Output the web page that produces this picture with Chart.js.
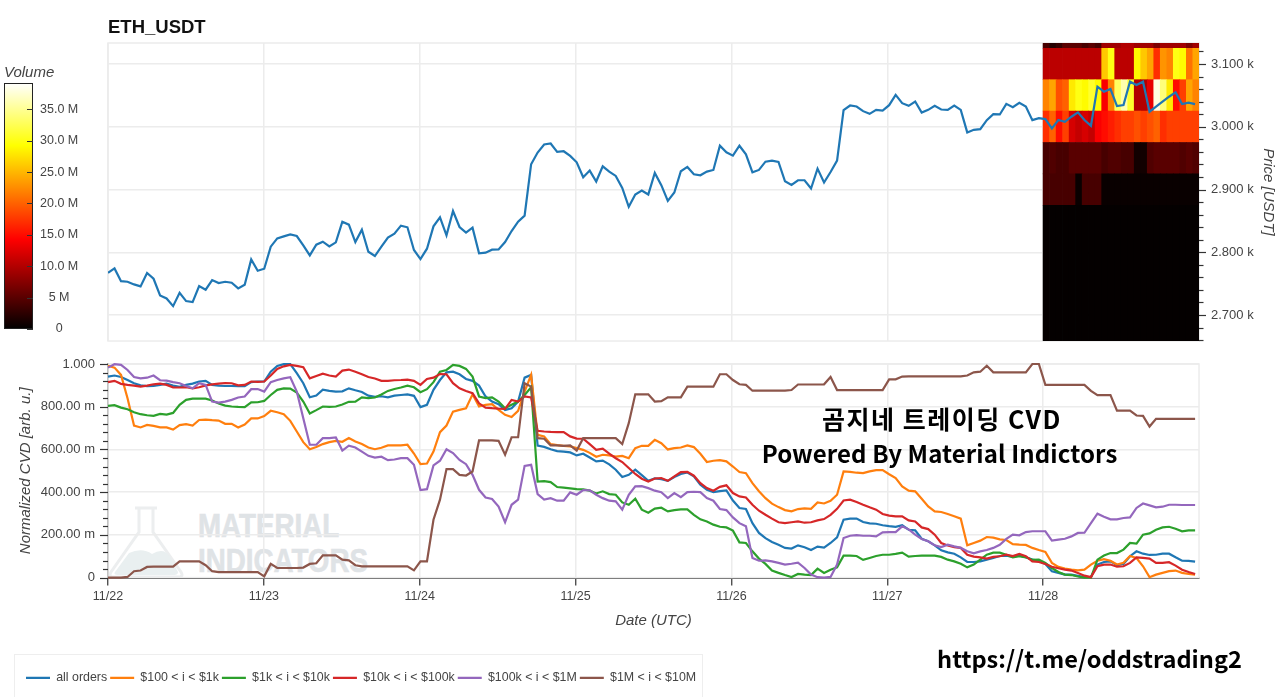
<!DOCTYPE html>
<html>
<head>
<meta charset="utf-8">
<script src="https://cdn.jsdelivr.net/npm/chart.js@4/dist/chart.umd.min.js"></script>
<style>
html,body{margin:0;padding:0;background:#fff;width:1280px;height:697px;overflow:hidden}
canvas{position:absolute;left:0;top:0}
.t{position:absolute;white-space:nowrap;color:#000}
#legendBox{position:absolute;left:14px;top:654px;width:689px;height:60px;border:1px solid #eee;box-sizing:border-box}
.wm{position:absolute;white-space:nowrap;left:198px;font:bold 33px "Liberation Sans",sans-serif;color:#dfe3e6;-webkit-text-stroke:.6px #dfe3e6;transform:scaleX(.84);transform-origin:left center;line-height:33px}
</style>
</head>
<body>
<div id="legendBox"></div>
<svg style="position:absolute;left:104px;top:504px" width="84" height="78" viewBox="0 0 84 78">
<path d="M31 4 H53 M35 4 V28 L7 68 Q4 73 10 73 H74 Q80 73 77 68 L49 28 V4" fill="none" stroke="#eceeef" stroke-width="3"/>
<path d="M11 68 L25 49 Q38 43 48 50 Q60 43 66 53 L74 68 Q74 71 70 71 H14 Q9 71 11 68Z" fill="#e9eff0"/>
</svg>
<div class="wm" style="top:509px">MATERIAL</div>
<div class="wm" style="top:544px">INDICATORS</div>
<canvas id="price" width="1280" height="697"></canvas>
<canvas id="cvd" width="1280" height="697"></canvas>
<canvas id="bar" width="1280" height="697"></canvas>
<div class="t" id="k1" style="left:942px;top:418px;transform:translate(-50%,-50%);font:bold 25px 'Noto Sans CJK KR',sans-serif;letter-spacing:1.5px">곰지네 트레이딩 CVD</div>
<div class="t" id="k2" style="left:939.5px;top:452px;transform:translate(-50%,-50%);font:bold 24px 'Noto Sans CJK KR',sans-serif;letter-spacing:.1px">Powered By Material Indictors</div>
<div class="t" id="k3" style="left:1089.5px;top:658px;transform:translate(-50%,-50%);font:bold 23.6px 'Noto Sans CJK KR',sans-serif">https://t.me/oddstrading2</div>
<script>
const chartTitle = 'ETH_USDT';
const dateTickLabels = ['11/22','11/23','11/24','11/25','11/26','11/27','11/28'];
const priceTickValues = [2700,2800,2900,3000,3100];
const priceTickLabels = ['2.700 k','2.800 k','2.900 k','3.000 k','3.100 k'];
const cvdTickValues = [0,200,400,600,800,1000];
const cvdTickLabels = ['0','200.00 m','400.00 m','600.00 m','800.00 m','1.000'];
const volumeTickValues = [0,5,10,15,20,25,30,35];
const volumeTickLabels = ['0','5 M','10.0 M','15.0 M','20.0 M','25.0 M','30.0 M','35.0 M'];
const seriesLabels = ['all orders','$100 < i < $1k','$1k < i < $10k','$10k < i < $100k','$100k < i < $1M','$1M < i < $10M'];

// hourly close, one value per hour from 11/22 00:00
const priceValues = [2767.4,2774.3,2754,2753,2748.8,2745.6,2766.9,2757.8,2731.2,2726.4,2714.2,2735.5,2722.2,2720.6,2746.1,2740.3,2755.7,2750.9,2753,2751.4,2742.4,2748.2,2788.7,2770.6,
2773.8,2808.9,2822.2,2825.4,2828.6,2825.9,2811,2795.1,2812.1,2816.9,2809.4,2815.8,2848.8,2844,2816.3,2836,2800.9,2794,2808.9,2823.3,2829.6,2842.4,2839.8,2803.6,
2789.2,2805.7,2841.3,2855.7,2827,2865.8,2840.3,2831.2,2839.2,2798.3,2799.3,2804.1,2804.6,2816.3,2833.9,2848.8,2858.4,2940.3,2958.9,2971.7,2973.3,2960,2961,2953.6,
2943.4,2919.6,2930.2,2912.7,2937,2928.6,2921.7,2902.6,2872.5,2892,2898.4,2892,2926.4,2906.9,2882,2895.2,2929.1,2936,2924.3,2922.7,2928.6,2931.2,2969.8,2959.3,
2954,2969.8,2956.1,2927.5,2931.2,2944.4,2946,2943.9,2913.2,2907.4,2914.8,2914.8,2901.6,2933.3,2911.1,2928,2946,3026.5,3033.9,3032.3,3024.9,3020.6,3027,3025.9,
3034.4,3050.8,3037.6,3033.3,3040.2,3022.7,3027,3033.3,3027.5,3027,3033.9,3027,2991,2995.2,2996.3,3010.6,3020.1,3019.6,3036.5,3031.2,3038.1,3032.3,3010.6,3013.8,
3012.3,2997.4,3010.7,3008,3016,3022.9,3010.7,3001.6,3063.9,3055.9,3060.1,3033,3034.6,3071.8,3066.5,3071.8,3024,3032,3039.9,3047.9,3054.8,3036.2,3038.3,3036.2];

// normalized CVD in milli-units, one value per hour
const cvdAllOrders = [941,946,939,925,910,900,896,897,902,908,899,893,902,908,918,921,902,899,897,897,896,896,915,918,918,964,991,999,999,957,910,844,852,880,874,871,872,886,877,869,852,846,849,844,852,855,858,851,798,809,
879,925,961,964,952,930,921,899,848,824,812,785,793,824,936,949,618,612,601,592,590,586,572,580,562,544,548,530,505,471,481,505,480,453,464,461,453,471,485,492,474,435,411,400,405,408,361,326,321,
255,209,185,167,154,139,136,151,142,129,145,140,162,188,271,276,276,260,254,252,245,241,238,245,224,221,182,170,151,128,118,112,95,73,73,76,84,92,101,103,97,103,95,84,79,64,30,22,14,14,8,2,3,61,73,76,58,64,100,123,112,106,107,112,112,95,79,78,75];
const cvd100To1k = [992,983,949,840,712,703,715,710,703,703,693,714,718,712,738,740,737,735,720,720,703,717,745,745,756,781,774,765,734,684,634,601,611,625,634,640,636,653,637,625,609,601,608,619,619,619,622,581,531,534,
590,681,712,777,785,793,858,801,809,812,785,762,752,781,871,949,668,661,625,620,617,614,606,598,584,566,575,572,566,570,559,606,617,617,645,629,600,606,609,619,611,580,541,547,550,544,520,494,489,
442,404,372,346,330,316,310,321,324,322,352,347,360,388,497,495,491,489,497,503,503,484,466,427,407,404,369,333,310,307,298,287,276,151,162,173,190,187,179,176,157,154,153,139,129,120,69,50,42,37,34,37,61,79,86,79,61,69,101,92,53,2,14,22,30,33,22,17,14];
const cvd1kTo10k = [804,807,796,788,774,765,760,757,766,763,771,809,832,838,838,838,829,815,805,801,799,798,820,821,827,855,879,886,885,866,824,768,784,801,799,801,810,823,824,844,840,843,857,874,883,890,899,891,868,882,
915,964,972,996,991,977,941,848,840,844,824,793,809,824,855,891,450,452,447,424,421,418,414,413,407,394,404,391,388,352,341,369,318,304,323,327,310,316,319,319,294,273,263,248,238,235,220,165,162,
123,89,64,33,22,12,3,17,14,12,42,22,37,48,103,103,101,83,92,101,107,107,111,117,98,101,103,103,103,97,84,76,65,48,61,84,107,117,117,107,95,100,95,83,84,69,45,26,14,12,5,0,0,84,103,115,115,131,162,159,201,207,224,235,238,229,217,221,221];
const cvd10kTo100k = [915,921,907,902,899,894,899,905,908,902,891,890,891,886,891,900,905,908,911,910,900,902,918,916,918,946,977,989,996,991,985,933,944,955,946,941,969,974,964,952,939,932,921,921,924,925,927,921,902,930,
936,953,952,910,886,874,863,816,796,793,791,790,832,824,848,843,687,684,682,681,681,661,651,650,625,598,604,580,559,541,513,485,463,450,464,466,453,474,494,495,477,442,419,407,425,432,396,380,375,
341,313,294,276,259,255,259,263,257,259,268,274,294,322,361,365,354,341,329,318,298,290,287,287,268,263,235,227,201,162,150,143,139,107,98,95,89,97,100,107,101,111,100,76,73,64,51,44,37,33,22,9,2,53,61,61,51,53,69,95,92,89,69,69,72,56,37,26,17];
const cvd100kTo1M = [983,999,996,972,939,933,936,946,924,922,915,910,897,886,910,902,824,819,824,832,843,848,882,883,871,915,925,933,938,871,746,622,622,653,653,656,595,618,609,590,570,562,566,550,553,559,559,528,410,414,
525,547,601,583,551,531,481,411,375,368,333,259,341,365,523,528,391,365,372,360,360,399,388,410,408,388,372,360,357,318,388,427,428,419,407,400,372,396,377,400,402,400,372,360,321,316,282,255,240,
92,79,81,76,69,61,65,70,45,14,2,0,3,61,185,196,199,196,196,193,212,213,213,240,226,201,181,170,151,143,154,146,139,123,114,123,129,139,154,181,201,198,213,217,217,217,173,178,182,193,209,210,255,299,285,273,273,279,282,326,347,338,329,332,341,341,340,340,340];
const cvd1MTo10M = [0,0,0,3,30,33,50,51,51,51,51,76,76,76,76,58,30,26,26,26,26,26,26,26,6,64,45,45,45,45,47,64,67,104,104,104,84,81,58,53,53,53,53,53,53,53,53,34,76,76,
271,365,508,508,481,478,497,642,642,642,640,575,657,657,910,894,653,650,619,619,617,619,595,653,653,653,653,653,653,625,723,858,858,858,824,826,844,844,844,894,894,894,894,894,952,952,925,905,902,
875,875,875,875,875,875,878,904,904,904,904,905,939,878,878,878,878,878,878,878,878,928,928,941,942,942,942,942,942,942,942,942,942,946,961,964,992,961,961,961,961,961,961,1000,1000,902,902,902,902,902,902,902,874,854,854,854,782,782,782,759,757,707,743,743,743,743,743,743,743];

// volume-profile heat map: price bands and traded volume (millions) per hour of the last day
const heatHours = [144,145,146,147,148,149,150,151,152,153,154,155,156,157,158,159,160,161,162,163,164,165,166,167];
const heatBandEdges = [2650,2875,2925,2975,3025,3075,3125,3140];
const heatBelow2875 = [0.2,0.2,0.2,0.2,0.2,0.2,0.2,0.2,0.2,0.2,0.2,0.2,0.2,0.2,0.2,0.2,0.2,0.2,0.2,0.2,0.2,0.2,0.2,0.2];
const heat2875to2925 = [4,4,4,4,4,0.5,4,4,4,0.5,0.5,0.5,0.5,0.5,0.5,0.5,0.5,0.5,0.5,0.5,0.5,0.5,0.5,0.5];
const heat2925to2975 = [4,4.5,4,4,5,5,5,5,5,4,4.5,4.5,4,4,1,1,4.5,5,5,5,5,4.5,5,4.5];
const heat2975to3025 = [17,20,15,18,12,11,12,11,14,15,16,17,18,18,19,18,19,20,17,18,18,18,18,18];
const heat3025to3075 = [22,24,19,20,28,30,29,31,29,14,22,33,36,31,10,10,13,38,34,28,15,18,24,22];
const heat3075to3125 = [10.5,10.5,10.5,10.5,10.5,10.5,10.5,10.5,10.5,26,30,10.5,10.5,10.5,29,26,24,17,23,22,30,29,21,24];
const heatAbove3125 = [4,2,3,5,5,5,4,5,4,9,9,9,10,10,9,9,9,7,9,9,9,9,7,9];
const heatRows = [heatBelow2875,heat2875to2925,heat2925to2975,heat2975to3025,heat3025to3075,heat3075to3125,heatAbove3125];
const volumeMax = 39.2;

const lineColors = ['#1f77b4','#ff7f0e','#2ca02c','#d62728','#9467bd','#8c564b'];
const cvdSeries = [cvdAllOrders,cvd100To1k,cvd1kTo10k,cvd10kTo100k,cvd100kTo1M,cvd1MTo10M];

function hot(v){
  const t = Math.min(1,Math.max(0,v/volumeMax));
  const c = x => Math.round(255*Math.min(1,Math.max(0,x)));
  return `rgb(${c(t/0.365)},${c((t-0.365)/0.381)},${c((t-0.746)/0.254)})`;
}
const gridColor = '#ececec', textColor = '#444', labelFont = '"Liberation Sans",sans-serif';
Chart.defaults.font.family = labelFont;
Chart.defaults.color = textColor;

function frame(color){
  return {id:'frame',beforeDatasetsDraw(c){const a=c.chartArea,x=c.ctx;x.save();x.strokeStyle=color;x.lineWidth=1.5;x.strokeRect(a.left,a.top,a.right-a.left,a.bottom-a.top);x.restore();}};
}
function tickMarks(majors,fromRight,dir,longLen,shortLen,color,width){
  return {id:'tickMarks',afterDraw(c){
    const s=c.scales.y,a=c.chartArea,x=c.ctx,x0=fromRight?a.right:a.left;
    x.save();x.strokeStyle=color;x.lineWidth=width;
    s.ticks.forEach(t=>{const y=Math.round(s.getPixelForValue(t.value))+.5,l=majors.includes(t.value)?longLen:shortLen;
      x.beginPath();x.moveTo(x0,y);x.lineTo(x0+dir*l,y);x.stroke();});
    x.restore();}};
}
const hourMax = 167.6;
function xScale(extra){
  return Object.assign({type:'linear',min:0,max:hourMax,offset:false,
    grid:{color:gridColor,lineWidth:1.5,offset:false,drawTicks:false},border:{display:false},
    ticks:{display:false,stepSize:24,includeBounds:false,autoSkip:false,maxRotation:0}},extra);
}

// price + volume heat map
new Chart(document.getElementById('price'),{
  type:'line',
  data:{datasets:[
    {type:'line',label:'price',order:0,data:priceValues.map((v,i)=>({x:i,y:v})),borderColor:'#1f77b4',backgroundColor:'#1f77b4',borderWidth:2.2,pointRadius:0,tension:0},
    ...heatRows.map((row,r)=>({type:'bar',label:'band '+r,order:1,grouped:false,barPercentage:1,categoryPercentage:1,borderWidth:0,
      data:row.map((v,i)=>({x:heatHours[i]+0.15,y:[heatBandEdges[r],heatBandEdges[r+1]]})),
      backgroundColor:row.map(hot)}))
  ]},
  options:{responsive:false,animation:false,events:[],
    layout:{autoPadding:false,padding:{left:108,top:17,right:0,bottom:356}},
    plugins:{legend:{display:false},tooltip:{enabled:false},
      title:{display:true,text:chartTitle,align:'start',color:'#111',font:{size:18.5,weight:'bold'},padding:{top:0,bottom:3.8}}},
    scales:{
      x:xScale({afterFit(s){s.height=0;}}),
      y:{type:'linear',position:'right',min:2658.6,max:3133.5,
        afterFit(s){s.width=81;},
        grid:{drawTicks:false,lineWidth:1.5,color:c=>priceTickValues.includes(c.tick.value)?gridColor:'rgba(0,0,0,0)'},border:{display:false},
        ticks:{stepSize:20,includeBounds:false,autoSkip:false,padding:12,font:{size:13},color:textColor,
          callback:v=>{const i=priceTickValues.indexOf(v);return i<0?'':priceTickLabels[i];}},
        title:{display:true,text:'Price [USDT]',font:{size:15,style:'italic'},color:textColor,padding:{top:3,bottom:0}}}
    }},
  plugins:[frame(gridColor),tickMarks(priceTickValues,true,1,7,4.5,'#333',1.2)]
});

// normalized CVD
new Chart(document.getElementById('cvd'),{
  type:'line',
  data:{datasets:cvdSeries.map((s,k)=>({label:seriesLabels[k],order:5-k,data:s.map((v,i)=>({x:i,y:v})),borderColor:lineColors[k],backgroundColor:lineColors[k],borderWidth:2.2,pointRadius:0,tension:0,clip:false}))},
  options:{responsive:false,animation:false,events:[],
    layout:{autoPadding:false,padding:{left:23,top:364,right:81,bottom:3}},
    plugins:{tooltip:{enabled:false},
      legend:{display:true,position:'bottom',align:'start',labels:{boxWidth:24,boxHeight:0,padding:3,color:textColor,font:{size:12.4},sort:(a,b)=>a.datasetIndex-b.datasetIndex}}},
    scales:{
      x:xScale({afterFit(s){s.height=91;},
        grid:{color:gridColor,lineWidth:1.5,offset:false,tickLength:8,tickColor:'#333',tickWidth:1.2},
        border:{display:true,color:'#444',width:2},
        ticks:{display:true,stepSize:24,includeBounds:false,autoSkip:false,maxRotation:0,padding:3,font:{size:12.5},color:textColor,
          callback:v=>dateTickLabels[Math.round(v/24)]},
        title:{display:true,text:'Date (UTC)',font:{size:15,style:'italic'},color:textColor,padding:{top:0,bottom:39}}}),
      y:{type:'linear',min:0,max:1000,
        afterFit(s){s.width=85;},
        grid:{drawTicks:false,lineWidth:1.5,color:c=>cvdTickValues.includes(c.tick.value)?gridColor:'rgba(0,0,0,0)'},border:{display:true,color:'#444',width:1.5},
        ticks:{stepSize:40,includeBounds:false,autoSkip:false,padding:13,font:{size:13},color:textColor,
          callback:v=>{const i=cvdTickValues.indexOf(v);return i<0?'':cvdTickLabels[i];}},
        title:{display:true,text:'Normalized CVD [arb. u.]',font:{size:15,style:'italic'},color:textColor,padding:{top:-6,bottom:0}}}
    }},
  plugins:[frame(gridColor),tickMarks(cvdTickValues,false,-1,8,5,'#333',1.2)]
});

// volume colour bar
new Chart(document.getElementById('bar'),{
  type:'bar',
  data:{labels:['Volume'],datasets:[{label:'Volume',data:[[0,volumeMax]],barPercentage:1,categoryPercentage:1,borderWidth:1,borderColor:'#222',inflateAmount:0,borderSkipped:false,
    backgroundColor(c){const a=c.chart.chartArea;if(!a)return '#000';const g=c.chart.ctx.createLinearGradient(0,a.bottom,0,a.top);
      g.addColorStop(0,'#000');g.addColorStop(.365,'#f00');g.addColorStop(.746,'#ff0');g.addColorStop(1,'#fff');return g;}}]},
  options:{responsive:false,animation:false,events:[],
    layout:{autoPadding:false,padding:{left:4,top:64,right:1187,bottom:368}},
    plugins:{legend:{display:false},tooltip:{enabled:false},
      title:{display:true,text:'Volume',align:'start',color:textColor,font:{size:15,style:'italic',weight:'normal'},padding:{top:0,bottom:1}}},
    scales:{
      x:{display:false},
      y:{type:'linear',position:'right',min:0,max:volumeMax,afterFit(s){s.width=60;},
        grid:{display:false,drawTicks:false},border:{display:false},
        ticks:{stepSize:5,includeBounds:false,autoSkip:false,padding:7,crossAlign:'center',font:{size:12.5},color:textColor,
          callback:v=>{const i=volumeTickValues.indexOf(v);return i<0?'':volumeTickLabels[i];}}}
    }},
  plugins:[tickMarks(volumeTickValues,true,-1,6,6,'#333',1)]
});
</script>
</body>
</html>
